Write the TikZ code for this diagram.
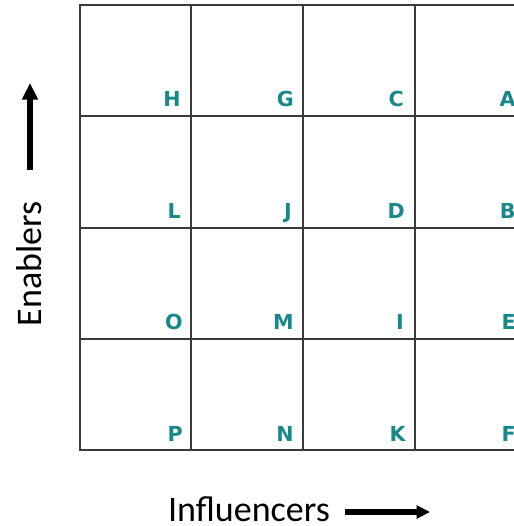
\documentclass[tikz,border=0pt]{standalone}
\usepackage{fontspec}
\usepackage{tikz}
\usetikzlibrary{arrows.meta}
\newfontfamily\cellfont{DejaVu Sans}
\newfontfamily\axisfont{Carlito}
\definecolor{Teal}{HTML}{17898A}
\definecolor{Rejilla}{HTML}{3A3A3A}

\begin{document}
\begin{tikzpicture}[
  x=0.75pt,y=-0.75pt,
  rejilla/.style={line width=1.5pt,draw=Rejilla},
  letra/.style={anchor=base east,inner sep=0pt,text=Teal,font=\cellfont\bfseries\fontsize{15.5}{17}\selectfont},
  eje/.style={inner sep=0pt,font=\axisfont\fontsize{27}{30}\selectfont},
  flecha/.style={line width=4.5pt,black}
]
  \useasboundingbox (0,0) rectangle (514,526);
  \clip (0,0) rectangle (514,526);

  % rejilla 4x4
  \draw[rejilla] (80,5) rectangle (525,450);
  \draw[rejilla] (191,5) -- (191,450);
  \draw[rejilla] (303,5) -- (303,450);
  \draw[rejilla] (415,5) -- (415,450);
  \draw[rejilla] (80,116) -- (525,116);
  \draw[rejilla] (80,228) -- (525,228);
  \draw[rejilla] (80,339) -- (525,339);

  % letras de las celdas
  \node[letra] (H) at (181,106) {H};
  \node[letra] (G) at (294,106) {G};
  \node[letra] (C) at (404,106) {C};
  \node[letra] (A) at (516,106) {A};
  \node[letra] (L) at (181,218) {L};
  \node[letra] (J) at (292,218) {J};
  \node[letra] (D) at (405,218) {D};
  \node[letra] (B) at (516,218) {B};
  \node[letra] (O) at (183,329) {O};
  \node[letra] (M) at (294,329) {M};
  \node[letra] (I) at (404,329) {I};
  \node[letra] (E) at (516,329) {E};
  \node[letra] (P) at (183,441) {P};
  \node[letra] (N) at (294,441) {N};
  \node[letra] (K) at (406,441) {K};
  \node[letra] (F) at (516,441) {F};

  % ejes
  \node[eje,rotate=90] (enablers) at (29,264) {Enablers};
  \node[eje,anchor=base] (influencers) at (249,521) {Influencers};
  \coordinate (arribaIni) at (30,170);
  \coordinate (arribaFin) at (30,83);
  \coordinate (derIni) at (345,512);
  \coordinate (derFin) at (430,512);
  \draw[flecha,-{Triangle[length=12.5pt,width=11.5pt]}] (arribaIni) -- (arribaFin);
  \draw[flecha,line width=4pt,-{Triangle[length=10pt,width=9.5pt]}] (derIni) -- (derFin);
\end{tikzpicture}
\end{document}
